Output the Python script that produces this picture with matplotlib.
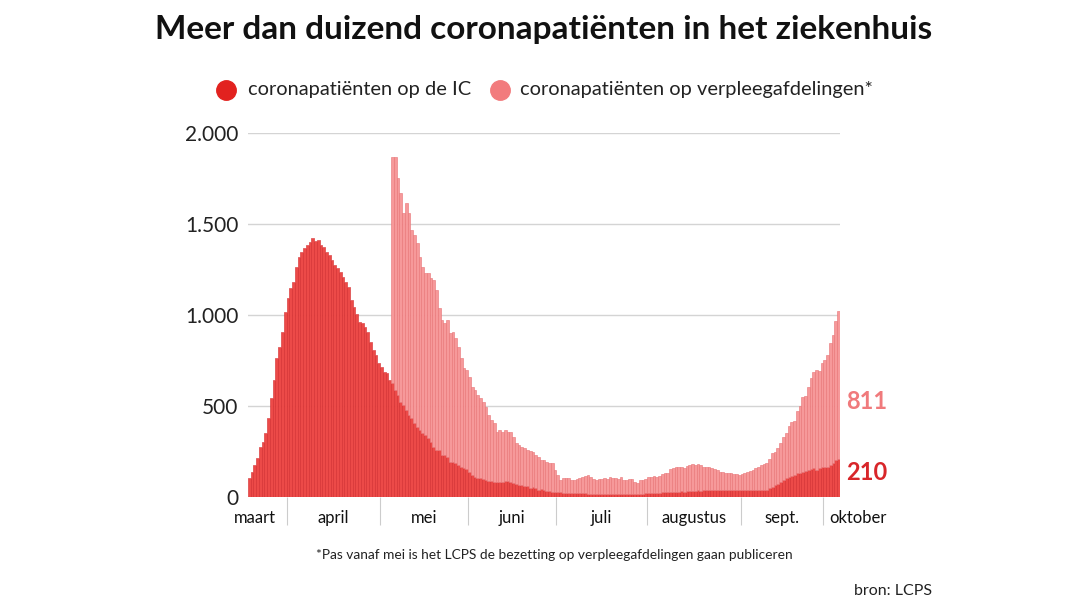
import numpy as np
import matplotlib
matplotlib.use("Agg")
import matplotlib.pyplot as plt
from matplotlib.lines import Line2D
import matplotlib.transforms as mtransforms

plt.rcParams['font.family'] = ['Lato', 'DejaVu Sans']

ic = [104, 139, 176, 214, 277, 304, 352, 434, 544, 643, 764, 826, 908, 1018, 1094, 1148, 1183,
      1266, 1320, 1348, 1368, 1385, 1403, 1422, 1409, 1412, 1385, 1376, 1348, 1330, 1302, 1275,
      1257, 1235,
      1207, 1183, 1156, 1083, 1046, 1006, 964, 955, 936, 908, 854, 808, 780, 735, 713, 689, 680, 643,
      625, 588, 560, 524, 506, 478, 451, 432, 405, 386, 368, 350, 341, 322, 304, 276,
      258, 258, 231, 231, 222, 194, 194, 189, 176, 167, 158, 153, 139, 121, 112, 103, 103, 99, 94,
      90, 88, 85, 80, 80, 85, 88, 88, 80, 77, 71, 66, 66, 62, 62,
      48, 57, 48, 38, 42, 38, 35, 35, 29, 29, 29, 29, 24, 24, 24, 24, 20, 20, 20, 20, 20, 16, 16, 16,
      16, 16, 16, 16, 16, 16, 16, 16, 16, 16, 16,
      16, 17, 16, 18, 17, 19, 18, 20, 21, 20, 22, 23, 22, 25, 26, 25, 28, 29, 28, 30, 31, 30, 33, 34,
      33, 35, 36, 35, 37, 38, 36, 38, 39, 37, 38,
      38, 38, 39, 38, 38, 39, 38, 38, 39, 38, 39, 40, 39, 40, 41, 40, 38, 48, 57, 66, 71, 84, 93, 103,
      112, 115, 121, 130, 134, 139, 145, 148, 152, 158, 148, 158, 163, 167, 167, 176, 185, 203, 210]

# verpleegafdelingen: pas vanaf mei gepubliceerd
ward_start = 52
ward = [1242, 1279, 1191, 1145, 1053, 1136, 1108, 1035, 1035, 1008, 952, 916, 888, 907, 898, 916,
        879, 779, 742, 724, 751, 706, 714, 683, 650, 595, 549, 545, 522, 485, 476, 457, 439, 425, 402,
        361, 335, 320, 279, 288, 274, 280, 271, 279, 254, 224, 220, 210, 205, 196,
        207, 192, 183, 184, 161, 165, 159, 150, 156, 119, 92, 64, 79, 79, 79, 69, 73, 77, 83, 92, 95,
        105, 92, 81, 77, 81, 81, 87, 81, 92, 87, 87, 81, 96, 77,
        77, 80, 81, 66, 62, 74, 75, 77, 91, 92, 93, 85, 93, 101, 104, 109, 124, 129, 135, 133, 136,
        128, 137, 142, 147, 141, 144, 141, 130, 125, 127, 120, 113, 111, 101,
        101, 96, 95, 92, 88, 87, 83, 88, 95, 101, 106, 108, 119, 127, 135, 141, 147, 159, 183, 183,
        196, 211, 235, 251, 278, 299, 299, 344, 366, 412, 410, 455, 500, 531, 550, 536, 572, 586,
        613, 669, 705, 766, 811]

months = ['maart', 'april', 'mei', 'juni', 'juli', 'augustus', 'sept.', 'oktober']
month_bounds = [13.5, 47.5, 79.5, 111.5, 144.5, 178.5, 208.5]
yticks = [0, 500, 1000, 1500, 2000]
ytick_labels = ['0', '500', '1.000', '1.500', '2.000']

c_ic = '#ec4a48'
c_ic_edge = '#d32a2c'
c_ward = '#f6999a'
c_ward_edge = '#e87274'

ic = np.array(ic)
n = len(ic)
x = np.arange(n)
ward_full = np.zeros(n)
ward_full[ward_start:ward_start + len(ward)] = ward

fig = plt.figure(figsize=(10.8, 6.08), dpi=100)
ax = fig.add_axes([0.2296, 0.1826, 0.548, 0.5986])

ax.bar(x, ic, width=1.0, color=c_ic, edgecolor=c_ic_edge, linewidth=0.4, zorder=2)
ax.bar(x, ward_full, bottom=ic, width=1.0, color=c_ward, edgecolor=c_ward_edge,
       linewidth=0.4, zorder=2)

ax.set_xlim(-0.5, n - 0.5)
ax.set_ylim(0, 2000)
ax.set_yticks(yticks)
ax.set_yticklabels(ytick_labels, fontsize=15, color='#222222')
ax.yaxis.grid(True, color='#d4d4d4', linewidth=1.0, zorder=0)
ax.set_axisbelow(True)
ax.tick_params(axis='y', length=0, pad=7)
for s in ax.spines.values():
    s.set_visible(False)

# maandscheidingen onder de as
ax.set_xticks(month_bounds)
ax.set_xticklabels([])
ax.tick_params(axis='x', direction='out', length=20, width=0.8, color='#cccccc')

edges = [-14.0] + month_bounds + [236.0]
trans = mtransforms.blended_transform_factory(ax.transData, ax.transAxes)
for i, m in enumerate(months):
    xm = (edges[i] + edges[i + 1]) / 2
    if i == 0:
        xm = 2.0
    if i == len(months) - 1:
        xm = 221.0
    ax.text(xm, -0.058, m, transform=trans, ha='center', va='center', fontsize=12,
            color='#111111', clip_on=False)

# eindwaarden
trans_y = mtransforms.blended_transform_factory(ax.transAxes, ax.transData)
ax.text(1.01, 527, f'{ward[-1]}', transform=trans_y, ha='left', va='center', fontsize=17,
        fontweight='bold', color='#f07a7c')
ax.text(1.01, 137, f'{ic[-1]}', transform=trans_y, ha='left', va='center', fontsize=17,
        fontweight='bold', color='#d8262a')

fig.text(0.503, 0.952, 'Meer dan duizend coronapatiënten in het ziekenhuis', ha='center',
         va='center', fontsize=24, fontweight='bold', color='#111111')

# legenda
for xc, col in [(0.2093, '#e2221f'), (0.4630, '#f27b7d')]:
    fig.add_artist(Line2D([xc], [0.852], marker='o', markersize=14, color=col,
                          transform=fig.transFigure))
fig.text(0.2296, 0.852, 'coronapatiënten op de IC', ha='left', va='center', fontsize=14.4,
         color='#222222')
fig.text(0.4815, 0.852, 'coronapatiënten op verpleegafdelingen*', ha='left', va='center',
         fontsize=14.4, color='#222222')

fig.text(0.513, 0.087, '*Pas vanaf mei is het LCPS de bezetting op verpleegafdelingen gaan publiceren',
         ha='center', va='center', fontsize=9.9, color='#222222')
fig.text(0.863, 0.028, 'bron: LCPS', ha='right', va='center', fontsize=11.5, color='#222222')

fig.savefig('out.png', dpi=100)
